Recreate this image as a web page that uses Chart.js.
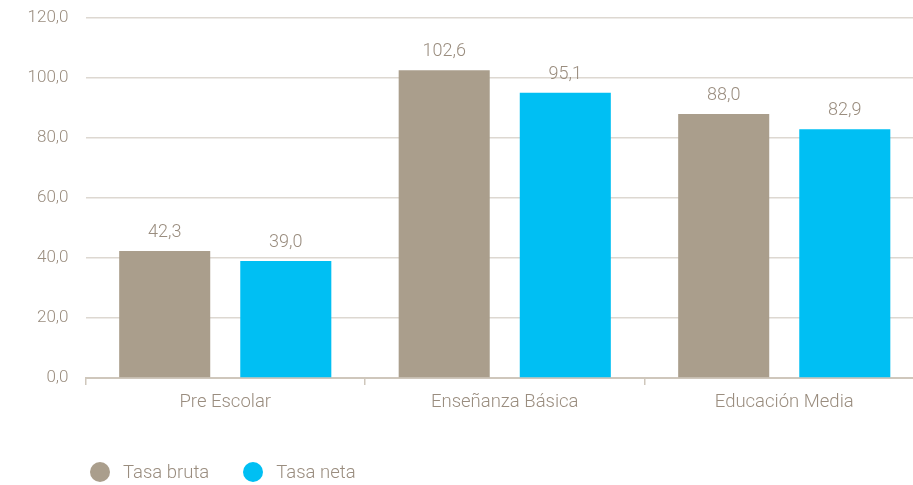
<!DOCTYPE html>
<html>
<head>
<meta charset="utf-8">
<script src="https://cdn.jsdelivr.net/npm/chart.js@4.4.1/dist/chart.umd.min.js"></script>
<style>
  html, body { margin: 0; padding: 0; background: #ffffff; overflow: hidden; width: 913px; height: 485px; }
  #wrap { position: absolute; left: 0; top: 0; width: 924px; height: 485px; }
  #legend { position: absolute; left: 90px; top: 461px; display: flex; align-items: center;
            font-family: Roboto, "Noto Sans", sans-serif; font-weight: 300; font-size: 18.5px; color: #9a8d7f; }
  .item { display: flex; align-items: center; margin-right: 34px; }
  .dot { width: 20px; height: 20px; border-radius: 50%; margin-right: 13px; }
</style>
</head>
<body>
<div id="wrap"><canvas id="c"></canvas></div>
<div id="legend"></div>
<script>
const categories = ["Pre Escolar", "Enseñanza Básica", "Educación Media"];
const seriesNames = ["Tasa bruta", "Tasa neta"];
const tasaBruta = [42.3, 102.6, 88.0];
const tasaNeta = [39.0, 95.1, 82.9];
const yTicks = [0, 20, 40, 60, 80, 100, 120];

const colors = ["#aa9e8c", "#00bff3"];
const textColor = "#9a8d7f";
const fontFamily = "Roboto, 'Noto Sans', sans-serif";

const fmt = v => Number(v).toFixed(1).replace(".", ",");

const valueLabels = {
  id: "valueLabels",
  afterDatasetsDraw(chart) {
    const ctx = chart.ctx;
    ctx.save();
    ctx.font = "300 18px " + fontFamily;
    ctx.fillStyle = textColor;
    ctx.textAlign = "center";
    ctx.textBaseline = "alphabetic";
    chart.data.datasets.forEach((ds, i) => {
      const meta = chart.getDatasetMeta(i);
      meta.data.forEach((bar, j) => {
        ctx.fillText(fmt(ds.data[j]), bar.x, bar.y - 14);
      });
    });
    ctx.restore();
  }
};

new Chart(document.getElementById("c"), {
  type: "bar",
  data: {
    labels: categories,
    datasets: [
      { label: seriesNames[0], data: tasaBruta, backgroundColor: colors[0] },
      { label: seriesNames[1], data: tasaNeta, backgroundColor: colors[1] }
    ]
  },
  options: {
    responsive: true,
    maintainAspectRatio: false,
    animation: false,
    events: [],
    categoryPercentage: 0.8665,
    barPercentage: 0.752,
    layout: { padding: { top: 18, bottom: 60, left: 0, right: 0 } },
    plugins: { legend: { display: false }, tooltip: { enabled: false } },
    scales: {
      x: {
        grid: { display: true, offset: true, drawOnChartArea: false, drawTicks: true, tickLength: 7, color: "#cfc7bc", lineWidth: 1.5 },
        border: { display: true, color: "#cfc7bc", width: 2 },
        ticks: { color: textColor, font: { family: fontFamily, size: 18.5, weight: 300 }, padding: 6 },
        afterFit(scale) { scale.height = 47; scale.paddingLeft = 0; scale.paddingRight = 0; }
      },
      y: {
        min: 0, max: 120,
        afterBuildTicks(scale) { scale.ticks = yTicks.map(v => ({ value: v })); },
        grid: { color: "#ddd8d1", lineWidth: 1.5, drawTicks: false },
        border: { display: false },
        ticks: { color: textColor, font: { family: fontFamily, size: 17, weight: 300 }, padding: 17, callback: v => fmt(v) },
        afterFit(scale) { scale.width = 85.5; scale.paddingTop = 0; scale.paddingBottom = 0; }
      }
    }
  },
  plugins: [valueLabels]
});

const legend = document.getElementById("legend");
seriesNames.forEach((name, i) => {
  const item = document.createElement("div");
  item.className = "item";
  const dot = document.createElement("span");
  dot.className = "dot";
  dot.style.background = colors[i];
  const txt = document.createElement("span");
  txt.textContent = name;
  item.appendChild(dot);
  item.appendChild(txt);
  legend.appendChild(item);
});
</script>
</body>
</html>
